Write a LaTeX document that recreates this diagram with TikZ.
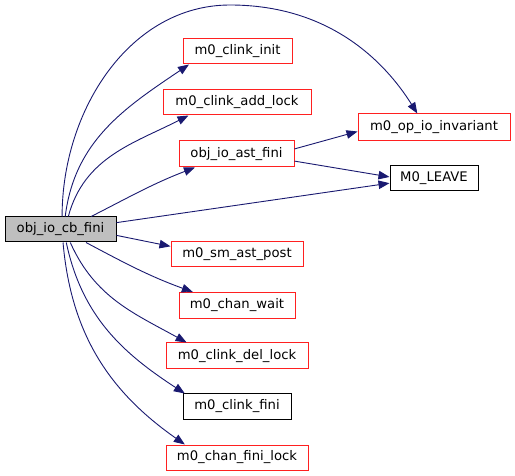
\documentclass[tikz,border=0pt]{standalone}
\usepackage{fontspec}
\setmainfont{DejaVu Sans}
\usetikzlibrary{positioning, arrows.meta}
\definecolor{edgeblue}{HTML}{191970}
\definecolor{rootgray}{HTML}{BFBFBF}
\definecolor{linkred}{HTML}{FF2020}

\begin{document}
\begin{tikzpicture}[x=1pt, y=1pt,
  every node/.style={font=\fontsize{13.2}{15}\selectfont, inner sep=0pt},
  fn/.style={rectangle, draw=linkred, line width=1pt, fill=white,
             minimum height=25pt},
  plain/.style={fn, draw=black},
  root/.style={fn, draw=black, fill=rootgray},
  call/.style={-{Triangle[length=11pt, width=8.5pt]}, edgeblue, line width=0.9pt}
]
\useasboundingbox (0,0) rectangle (515,-476);

% caller
\node[root, minimum width=111pt] (cbfini) at (60.5,-229.5) {obj\_io\_cb\_fini};

% callees
\node[fn, minimum width=109pt] (clinkinit) at (237.5,-51.5)  {m0\_clink\_init};
\node[fn, minimum width=148pt] (addlock)   at (237,-102.5)   {m0\_clink\_add\_lock};
\node[fn, minimum width=115pt, minimum height=26pt] (astfini) at (236.5,-154) {obj\_io\_ast\_fini};
\node[fn, minimum width=152pt, minimum height=27pt] (invariant) at (434,-127.5) {m0\_op\_io\_invariant};
\node[plain, minimum width=88pt] (leave)   at (434,-178.5)   {M0\_LEAVE};
\node[fn, minimum width=132pt] (smast)     at (237,-254.5)   {m0\_sm\_ast\_post};
\node[fn, minimum width=116pt, minimum height=26pt] (chanwait) at (237,-305.5) {m0\_chan\_wait};
\node[fn, minimum width=142pt, minimum height=26pt] (dellock)  at (237,-356) {m0\_clink\_del\_lock};
\node[plain, minimum width=108pt] (clinkfini) at (237,-406.5) {m0\_clink\_fini};
\node[fn, minimum width=142pt] (finilock)  at (237,-457.5)   {m0\_chan\_fini\_lock};

% calls
\draw[call] (cbfini.70) to[out=83, in=214] (clinkinit.195);
\draw[call] (cbfini.59) to[out=75, in=207] (addlock.195);
\draw[call] (cbfini.23) to[out=27, in=201] (astfini.198);
\draw[call] (cbfini.83) .. controls (62,-110) and (130,-5) .. (230,-5)
                        .. controls (330,-5) and (385,-62) .. (invariant.140);
\draw[call] (cbfini.7.7) -- (leave.186);
\draw[call] (cbfini.-6.7) -- (smast.173.5);
\draw[call] (cbfini.-27) to[out=-28, in=160] (chanwait.163);
\draw[call] (cbfini.-53) to[out=-66, in=151] (dellock.165);
\draw[call] (cbfini.-66) to[out=-78, in=147] (clinkfini.166);
\draw[call] (cbfini.-79) to[out=-85, in=145] (finilock.166);
\draw[call] (astfini.5) -- (invariant.183);
\draw[call] (astfini.-7) -- (leave.178);
\end{tikzpicture}
\end{document}
